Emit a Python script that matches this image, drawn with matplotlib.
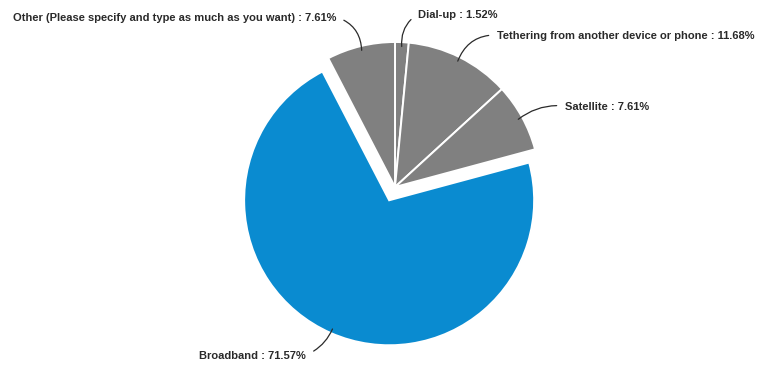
import matplotlib
matplotlib.use("Agg")
import matplotlib.pyplot as plt
import numpy as np

# connection type shares, clockwise from 12 o'clock
categories = ["Dial-up", "Tethering from another device or phone", "Satellite",
              "Broadband", "Other (Please specify and type as much as you want)"]
shares = [1.52, 11.68, 7.61, 71.57, 7.61]
colors = ["#808080", "#808080", "#808080", "#0a8bd0", "#808080"]
explode = [0, 0, 0, 0.1, 0]

# label placement in figure pixels (x, y from top), alignment and leader bend
label_pos = [(418, 15), (497, 36), (565, 107), (306, 356), (336, 18)]
label_ha = ["left", "left", "left", "right", "right"]
label_rad = [0.3, 0.35, 0.2, 0.2, -0.35]

W, H = 757, 366
cx, cy, r = 395, 187, 145

fig = plt.figure(figsize=(W / 100, H / 100), dpi=100)
ax = fig.add_axes([0, 0, 1, 1])
wedges, _ = ax.pie(shares, colors=colors, explode=explode, startangle=90,
                   counterclock=False, radius=1,
                   wedgeprops=dict(edgecolor="white", linewidth=1.4))
ax.set_xlim(-cx / r, (W - cx) / r)
ax.set_ylim(-(H - cy) / r, cy / r)
ax.set_aspect("auto")
ax.axis("off")

for w, cat, val, pos, ha, rad in zip(wedges, categories, shares, label_pos,
                                     label_ha, label_rad):
    mid = np.deg2rad((w.theta1 + w.theta2) / 2)
    x0, y0 = w.center
    ax.annotate(f"{cat} : {val:.2f}%",
                xy=(x0 + 0.97 * np.cos(mid), y0 + 0.97 * np.sin(mid)),
                xytext=(pos[0], H - pos[1]), textcoords="figure pixels",
                ha=ha, va="center", fontsize=8, fontweight="bold",
                family=["Liberation Sans", "DejaVu Sans"], color="#2a2a2a",
                arrowprops=dict(arrowstyle="-", color="#2a2a2a", lw=0.9,
                                shrinkA=4, shrinkB=0,
                                relpos=(0, 0.6) if ha == "left" else (1, 0.6),
                                connectionstyle=f"arc3,rad={rad}"))

fig.savefig("out.png", dpi=100, facecolor="white")
